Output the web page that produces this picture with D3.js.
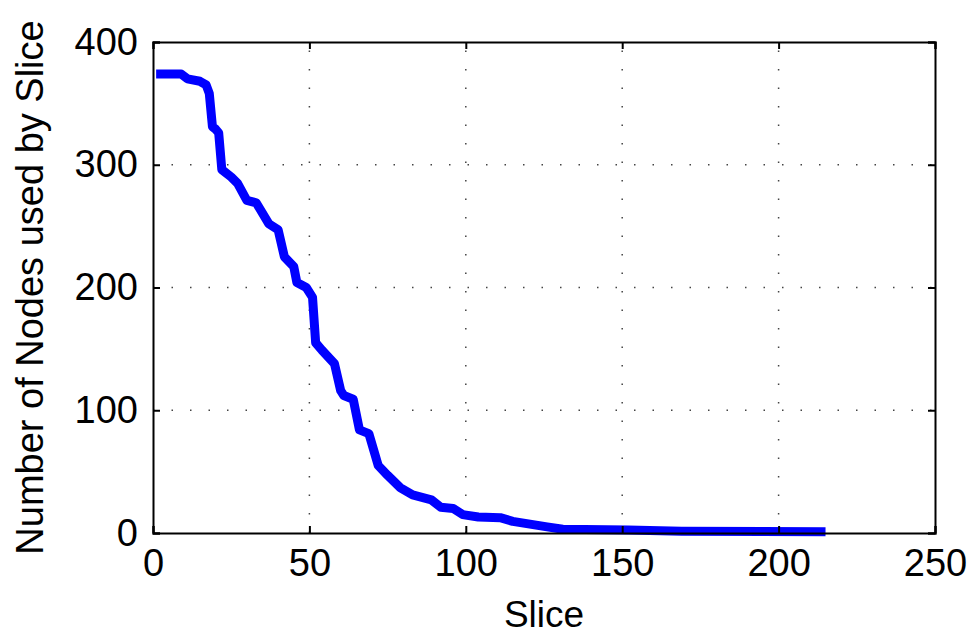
<!DOCTYPE html>
<html>
<head>
<meta charset="utf-8">
<script src="https://cdn.jsdelivr.net/npm/d3@7"></script>
<style>
  body { margin: 0; background: #fff; }
  svg { display: block; }
  text { font-family: "Liberation Sans", Arial, Helvetica, sans-serif; fill: #000; }
</style>
</head>
<body>
<div id="chart"></div>
<script>
// values
var slices = [1, 9, 11, 15, 17, 18, 19, 20, 21, 22, 25, 27, 30, 33, 37, 40, 42, 45, 46, 49,
              51, 52, 54, 58, 60, 61, 64, 66, 69, 72, 75, 79, 83, 89, 92, 96, 99, 104, 111, 115,
              126, 131, 152, 169, 215];
var nodes = [374, 374, 370, 368, 365, 358, 331, 329, 326, 296, 290, 285, 271, 269, 252, 247, 225, 217, 204, 200,
             192, 155, 149, 138, 116, 112, 109, 84, 81, 55, 47, 37, 31, 27, 21, 20, 15, 13, 12.5, 9.5,
             5, 3, 2.5, 1.5, 1];
var xTicks = [0, 50, 100, 150, 200, 250];
var yTicks = [0, 100, 200, 300, 400];

var W = 973, H = 634;
var margin = {top: 42, right: 38, bottom: 101, left: 153};

var svg = d3.select("#chart").append("svg")
    .attr("width", W)
    .attr("height", H);

var x = d3.scaleLinear().domain([0, 250]).range([margin.left, W - margin.right]);
var y = d3.scaleLinear().domain([0, 400]).range([H - margin.bottom, margin.top]);

var x0 = x.range()[0], x1 = x.range()[1], y0 = y.range()[0], y1 = y.range()[1];

// dotted grid
var grid = svg.append("g")
    .attr("stroke", "#444")
    .attr("stroke-width", 1.5)
    .attr("stroke-dasharray", "1.5,17");

grid.selectAll(".gx")
    .data(xTicks.slice(1, -1))
    .enter().append("line")
    .attr("x1", function(d) { return x(d); })
    .attr("x2", function(d) { return x(d); })
    .attr("y1", y0)
    .attr("y2", y1);

grid.selectAll(".gy")
    .data(yTicks.slice(1, -1))
    .enter().append("line")
    .attr("y1", function(d) { return y(d); })
    .attr("y2", function(d) { return y(d); })
    .attr("x1", x0)
    .attr("x2", x1);

// the curve
var line = d3.line()
    .x(function(d, i) { return x(slices[i]); })
    .y(function(d) { return y(d); });

svg.append("path")
    .datum(nodes)
    .attr("fill", "none")
    .attr("stroke", "#0000ff")
    .attr("stroke-width", 9)
    .attr("stroke-linejoin", "round")
    .attr("d", line);

// axes, ticks point inward like matlab
var tickLen = 7;

svg.append("g")
    .attr("transform", "translate(0," + y0 + ")")
    .call(d3.axisBottom(x).tickValues(xTicks).tickSize(-tickLen).tickPadding(16))
    .call(styleAxis);

svg.append("g")
    .attr("transform", "translate(0," + y1 + ")")
    .call(d3.axisTop(x).tickValues(xTicks).tickSize(-tickLen).tickFormat(""))
    .call(styleAxis);

svg.append("g")
    .attr("transform", "translate(" + x0 + ",0)")
    .call(d3.axisLeft(y).tickValues(yTicks).tickSize(-tickLen).tickPadding(15))
    .call(styleAxis);

svg.append("g")
    .attr("transform", "translate(" + x1 + ",0)")
    .call(d3.axisRight(y).tickValues(yTicks).tickSize(-tickLen).tickFormat(""))
    .call(styleAxis);

function styleAxis(g) {
    g.select(".domain").attr("stroke", "#000").attr("stroke-width", 2);
    g.selectAll(".tick line").attr("stroke", "#000").attr("stroke-width", 2);
    g.selectAll(".tick text")
        .style("font-size", "38px")
        .attr("fill", "#000");
}

// axis labels
svg.append("text")
    .attr("x", (x0 + x1) / 2)
    .attr("y", 627)
    .attr("text-anchor", "middle")
    .style("font-size", "37px")
    .text("Slice");

svg.append("text")
    .attr("transform", "translate(43," + (y0 + y1) / 2 + ") rotate(-90)")
    .attr("text-anchor", "middle")
    .style("font-size", "38px")
    .text("Number of Nodes used by Slice");
</script>
</body>
</html>
